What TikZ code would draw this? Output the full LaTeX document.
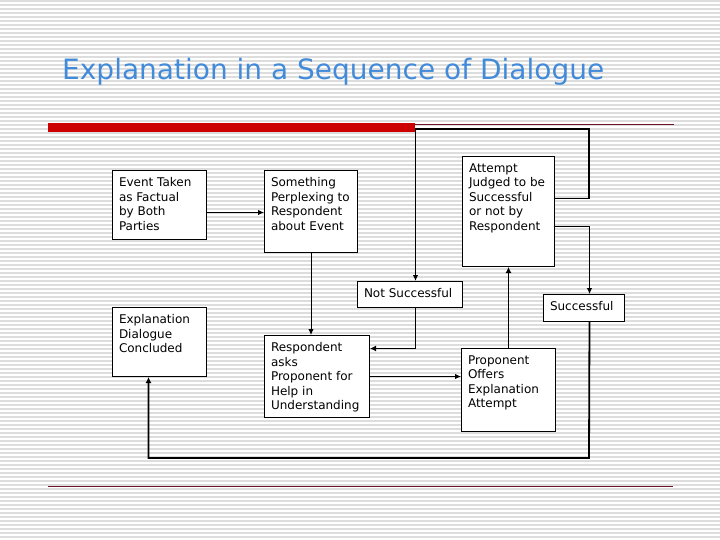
\documentclass[tikz,border=0pt]{standalone}
\usepackage{fontspec}
\setmainfont{DejaVu Sans}
\usepackage{tikz}
\usetikzlibrary{arrows.meta, positioning, calc}
\definecolor{titleblue}{RGB}{66, 139, 218}
\definecolor{barred}{RGB}{204, 0, 0}
\definecolor{rulemaroon}{RGB}{110, 20, 40}
\definecolor{stripegray}{RGB}{221, 221, 221}

\newcommand{\boxtext}[3]{\parbox[t][#2][t]{#1}{\raggedright #3}}

\tikzset{
    stagebox/.style={draw=black, fill=white, line width=1pt, inner xsep=6.5pt, inner ysep=7pt,
                     anchor=north west, font=\fontsize{12}{14.5}\selectfont},
    flow/.style={line width=1pt, -{Latex[length=6pt, width=5.5pt]}},
    flowthick/.style={line width=1.8pt, -{Latex[length=6pt, width=6pt]}},
}

\begin{document}
\begin{tikzpicture}[x=1pt, y=-1pt]
    \useasboundingbox (0,0) rectangle (720,540);
    \fill[white] (0,0) rectangle (720,540);
    % striped slide background
    \foreach \y in {1,5,...,537}
        \draw[stripegray, line width=1.2pt] (0,\y) -- (720,\y);

    \node[anchor=base west, inner sep=0, text=titleblue,
          font=\fontsize{28}{32}\selectfont] (title) at (62,80) {Explanation in a Sequence of Dialogue};
    \fill[barred] (48,123) rectangle (415,132);
    \draw[rulemaroon, line width=0.8pt] (415,124.5) -- (674,124.5);
    \draw[rulemaroon, line width=1pt] (48,486) -- (673,486);

    \node[stagebox] (event) at (112,170) {\boxtext{81pt}{55pt}{Event Taken\\as Factual\\by Both\\Parties}};
    \node[stagebox] (perplex) at (264,170) {\boxtext{80pt}{68pt}{Something\\Perplexing to\\Respondent\\about Event}};
    \node[stagebox] (judged) at (462,156) {\boxtext{79pt}{96pt}{Attempt\\Judged to be\\Successful\\or not by\\Respondent}};
    \node[stagebox] (notsucc) at (357,281) {\boxtext{92pt}{12pt}{Not Successful}};
    \node[stagebox] (succ) at (543,294) {\boxtext{68pt}{13pt}{Successful}};
    \node[stagebox] (concluded) at (112,307) {\boxtext{81pt}{55pt}{Explanation\\Dialogue\\Concluded}};
    \node[stagebox] (asks) at (264,335) {\boxtext{92pt}{68pt}{Respondent\\asks\\Proponent for\\Help in\\Understanding}};
    \node[stagebox] (offers) at (461,348) {\boxtext{81pt}{69pt}{Proponent\\Offers\\Explanation\\Attempt}};

    \coordinate (evout) at ([yshift=-7.5pt]event.east);
    \coordinate (nsout) at ([xshift=5.5pt]notsucc.south);
    \coordinate (askin) at ([yshift=-13.5pt]asks.north east);
    \coordinate (judgeout1) at ([yshift=13pt]judged.east);
    \coordinate (judgeout2) at ([yshift=-15pt]judged.east);
    \coordinate (loopne) at (589,129);
    \coordinate (nsin) at ([xshift=5.5pt]notsucc.north);
    \coordinate (succin) at ([xshift=5.5pt]succ.north);
    \coordinate (succout) at ([xshift=5.5pt]succ.south);
    \coordinate (loopse) at (589,458);
    \coordinate (concin) at ([xshift=-11pt]concluded.south);

    \draw[flow] (evout) -- (evout -| perplex.west);
    \draw[flow] (perplex.south) -- (perplex.south |- asks.north);
    \draw[flowthick] (nsout) |- (askin);
    \draw[flow] (asks.east) -- (asks.east -| offers.west);
    \draw[flowthick] (offers.north) -- (offers.north |- judged.south);
    \draw[flow, line width=1.3pt] (judgeout1) -| (loopne) -| (nsin);
    \draw[flow] (judgeout2) -| (succin);
    \draw[flowthick] (succout) -- (loopse) -| (concin);
\end{tikzpicture}
\end{document}
